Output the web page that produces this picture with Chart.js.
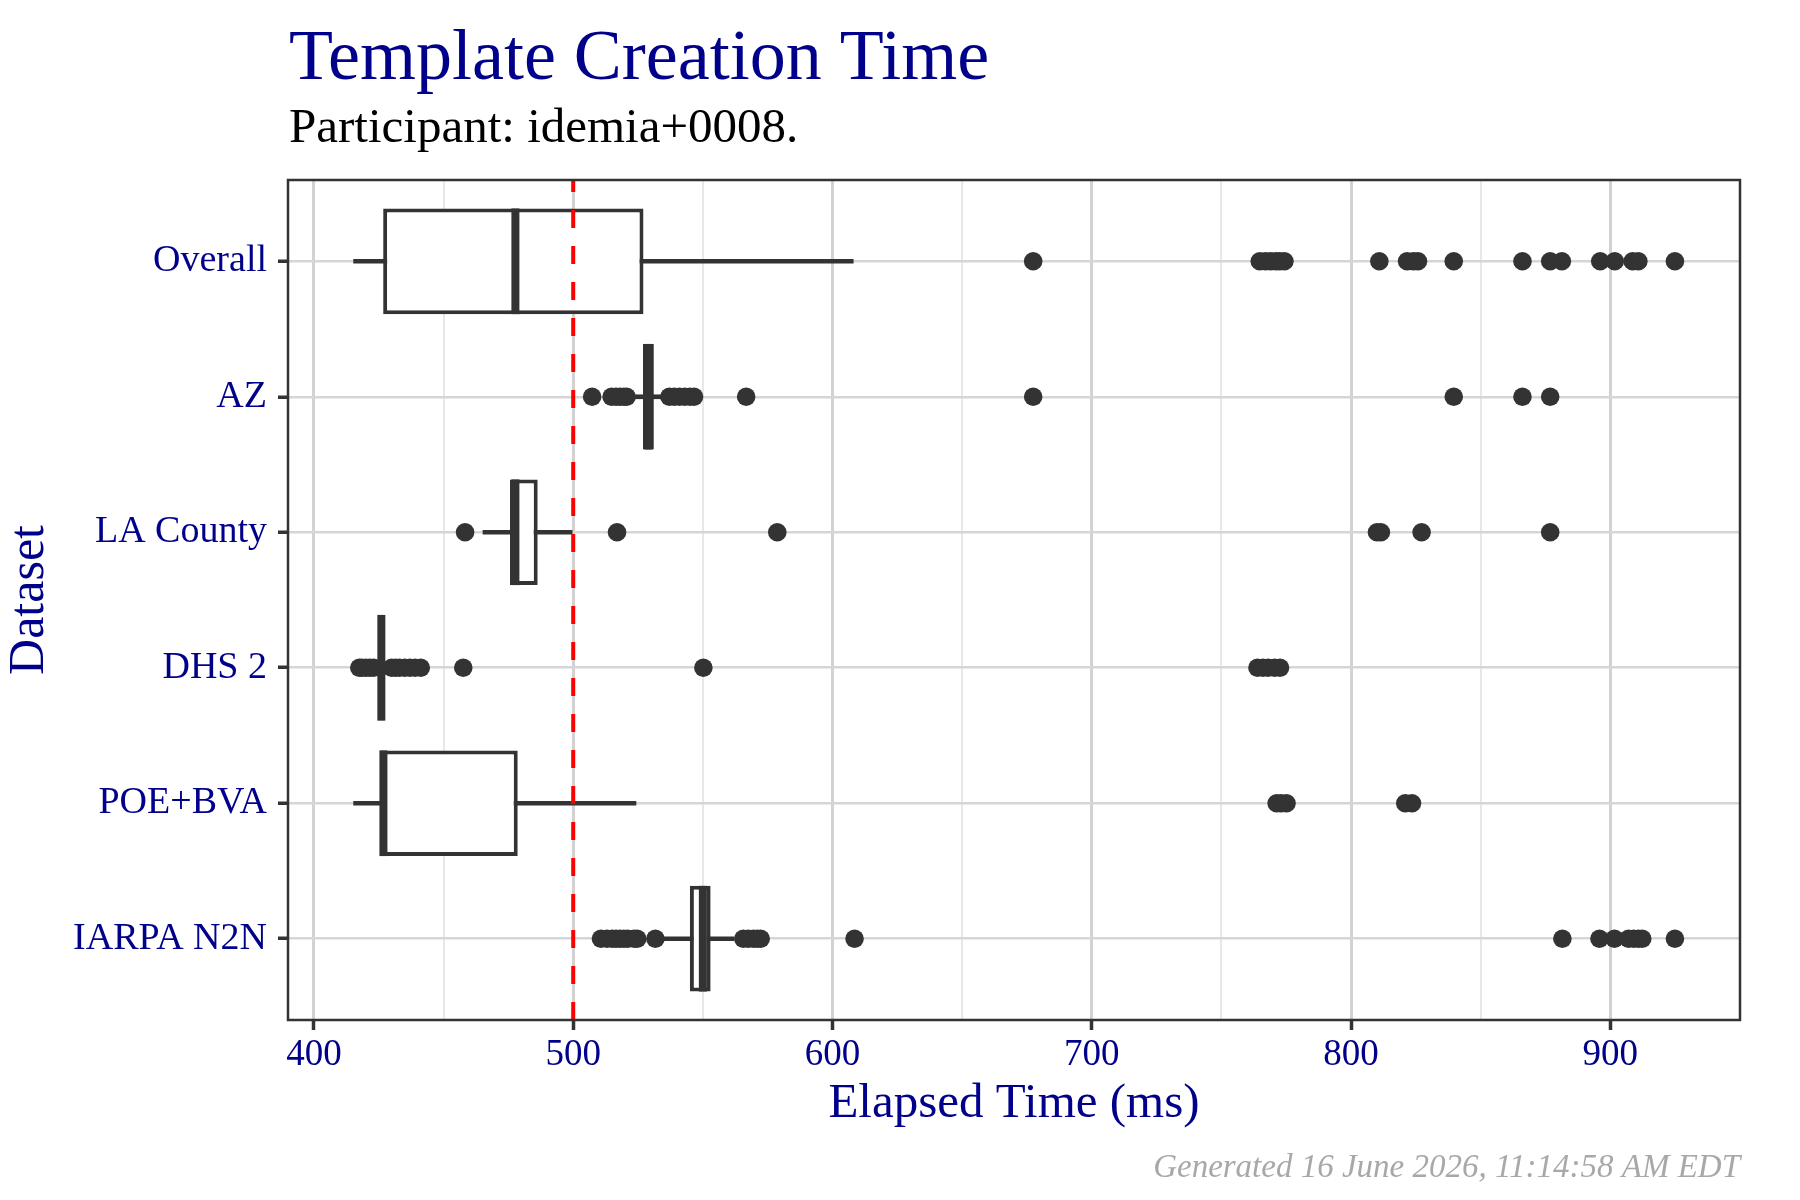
<!DOCTYPE html>
<html>
<head>
<meta charset="utf-8">
<title>Template Creation Time</title>
<script src="https://cdn.jsdelivr.net/npm/chart.js@4.4.1/dist/chart.umd.min.js"></script>
<style>
  html, body { margin: 0; padding: 0; background: #ffffff; }
  #wrap { width: 1800px; height: 1200px; }
</style>
</head>
<body>
<div id="wrap"><canvas id="chart" width="1800" height="1200"></canvas></div>
<script>
// Values (elapsed time in ms)
const categories = ['Overall', 'AZ', 'LA County', 'DHS 2', 'POE+BVA', 'IARPA N2N'];
const whiskerLow  = [415.3, 524.0, 465.2, 424.5, 415.3, 534.0];
const q1          = [426.7, 526.9, 475.6, 424.7, 425.6, 545.0];
const median      = [477.7, 529.0, 477.7, 426.0, 426.8, 550.0];
const q3          = [527.1, 531.1, 486.3, 427.3, 478.6, 553.0];
const whiskerHigh = [608.0, 535.0, 499.6, 428.0, 524.2, 562.0];

const outOverall = [677.4, 764.8, 767, 769, 771, 772.5, 774.3, 810.9, 821.6, 824, 825.8, 839.6,
                    866.1, 876.8, 881.3, 896.1, 901.7, 908.6, 910.8, 924.9];
const outAZ = [507.3, 514.8, 516.5, 518, 519.5, 520.6, 537.1, 539, 541, 543, 545, 546.6,
               566.7, 677.4, 839.6, 866.1, 876.8];
const outLA = [458.3, 516.9, 578.7, 810, 811.5, 827.2, 876.8];
const outDHS = [417.5, 418.5, 420, 421.5, 423, 430, 431.5, 433, 435, 437, 439, 441.2,
                457.6, 550.2, 763.9, 766, 768, 770.5, 772.6];
const outPOE = [771.3, 773, 775.1, 820.9, 823.5];
const outIARPA = [510.7, 513, 515, 516.5, 518, 519.5, 521, 523.5, 524.7, 531.7, 565.6, 567.5,
                  569.5, 571, 572.3, 608.5, 881.5, 895.8, 901.6, 907, 909, 910.8, 912.3, 924.9];
const outliers = [outOverall, outAZ, outLA, outDHS, outPOE, outIARPA];

const xTicksMajor = [400, 500, 600, 700, 800, 900];
const threshold = 500;

const NAVY = '#00008B';
const INK = '#333333';
Chart.defaults.font.family = '"Liberation Serif", "Times New Roman", serif';

// build datasets from the arrays above
const boxData = categories.map((c, i) => ({ y: i, x: [q1[i], q3[i]] }));
const whiskerData = categories.map((c, i) => ({ y: i, x: [whiskerLow[i], whiskerHigh[i]] }));
const pointData = [];
outliers.forEach((list, i) => list.forEach(v => pointData.push({ x: v, y: i })));

// medians, threshold line, panel border and titles
const extras = {
  id: 'extras',
  afterDatasetsDraw(chart) {
    const { ctx, chartArea: a, scales: { x } } = chart;
    const boxMeta = chart.getDatasetMeta(2);
    ctx.save();
    ctx.beginPath();
    ctx.rect(a.left, a.top, a.right - a.left, a.bottom - a.top);
    ctx.clip();
    // medians
    ctx.fillStyle = INK;
    median.forEach((m, i) => {
      const bar = boxMeta.data[i];
      const px = x.getPixelForValue(m);
      ctx.fillRect(px - 4, bar.y - bar.height / 2, 8, bar.height);
    });
    // dashed reference line
    const tx = x.getPixelForValue(threshold);
    ctx.strokeStyle = '#FF0000';
    ctx.lineWidth = 4;
    ctx.setLineDash([18, 18]);
    ctx.beginPath();
    ctx.moveTo(tx, a.bottom);
    ctx.lineTo(tx, a.top);
    ctx.stroke();
    ctx.restore();

    ctx.save();
    ctx.strokeStyle = INK;
    ctx.lineWidth = 2.5;
    ctx.strokeRect(a.left, a.top, a.right - a.left, a.bottom - a.top);
    ctx.restore();
  },
  afterDraw(chart) {
    const { ctx, chartArea: a } = chart;
    ctx.save();
    ctx.textBaseline = 'alphabetic';
    ctx.textAlign = 'left';
    ctx.fillStyle = NAVY;
    ctx.font = '72px "Liberation Serif"';
    ctx.fillText('Template Creation Time', a.left + 1, 79);
    ctx.fillStyle = '#000000';
    ctx.font = '49px "Liberation Serif"';
    ctx.fillText('Participant: idemia+0008.', a.left + 1, 142);
    ctx.textAlign = 'right';
    ctx.fillStyle = '#a8a8a8';
    ctx.font = 'italic 33px "Liberation Serif"';
    ctx.fillText('Generated 16 June 2026, 11:14:58 AM EDT', a.right, 1177);
    ctx.restore();
  }
};

new Chart(document.getElementById('chart'), {
  type: 'bar',
  data: {
    datasets: [
      {
        type: 'scatter',
        label: 'outliers',
        data: pointData,
        order: 3,
        pointRadius: 9.3,
        pointHoverRadius: 9.3,
        pointBackgroundColor: INK,
        pointBorderWidth: 0,
        showLine: false
      },
      {
        label: 'whiskers',
        data: whiskerData,
        order: 2,
        grouped: false,
        barThickness: 4,
        backgroundColor: INK,
        borderWidth: 0
      },
      {
        label: 'boxes',
        data: boxData,
        order: 1,
        grouped: false,
        categoryPercentage: 0.78,
        barPercentage: 1,
        backgroundColor: '#ffffff',
        borderColor: INK,
        borderWidth: 4,
        borderSkipped: false
      }
    ]
  },
  options: {
    indexAxis: 'y',
    responsive: false,
    devicePixelRatio: 1,
    animation: false,
    layout: { padding: { top: 180, right: 60, bottom: 0, left: 0 } },
    plugins: {
      legend: { display: false },
      tooltip: { enabled: false }
    },
    scales: {
      x: {
        type: 'linear',
        position: 'bottom',
        offset: false,
        min: 390,
        max: 950,
        afterFit(scale) { scale.height = 180; },
        border: { display: false },
        grid: {
          offset: false,
          color: c => (c.tick && xTicksMajor.includes(c.tick.value)) ? '#d2d2d2' : '#e8e8e8',
          lineWidth: c => (c.tick && xTicksMajor.includes(c.tick.value)) ? 3 : 2,
          tickColor: c => (c.tick && xTicksMajor.includes(c.tick.value)) ? INK : 'rgba(0,0,0,0)',
          tickLength: 10,
          tickWidth: 3.5
        },
        ticks: {
          stepSize: 50,
          includeBounds: false,
          autoSkip: false,
          maxRotation: 0,
          padding: 3,
          color: NAVY,
          font: { size: 37 },
          callback: v => xTicksMajor.includes(v) ? String(v) : ''
        },
        title: {
          display: true,
          text: 'Elapsed Time (ms)',
          color: NAVY,
          font: { size: 49 },
          padding: { top: 0, bottom: 66 }
        }
      },
      y: {
        type: 'linear',
        position: 'left',
        reverse: true,
        offset: false,
        min: -0.6,
        max: 5.6,
        afterFit(scale) { scale.width = 288; },
        border: { display: false },
        grid: {
          offset: false,
          color: '#d6d6d6',
          lineWidth: 2.5,
          tickColor: INK,
          tickLength: 10,
          tickWidth: 3.5
        },
        ticks: {
          stepSize: 1,
          includeBounds: false,
          autoSkip: false,
          padding: 11,
          color: NAVY,
          font: { size: 38 },
          callback: v => categories[v] !== undefined ? categories[v] : ''
        },
        title: {
          display: true,
          text: 'Dataset',
          color: NAVY,
          font: { size: 50 },
          padding: { top: 0, bottom: 0 }
        }
      }
    }
  },
  plugins: [extras]
});
</script>
</body>
</html>
